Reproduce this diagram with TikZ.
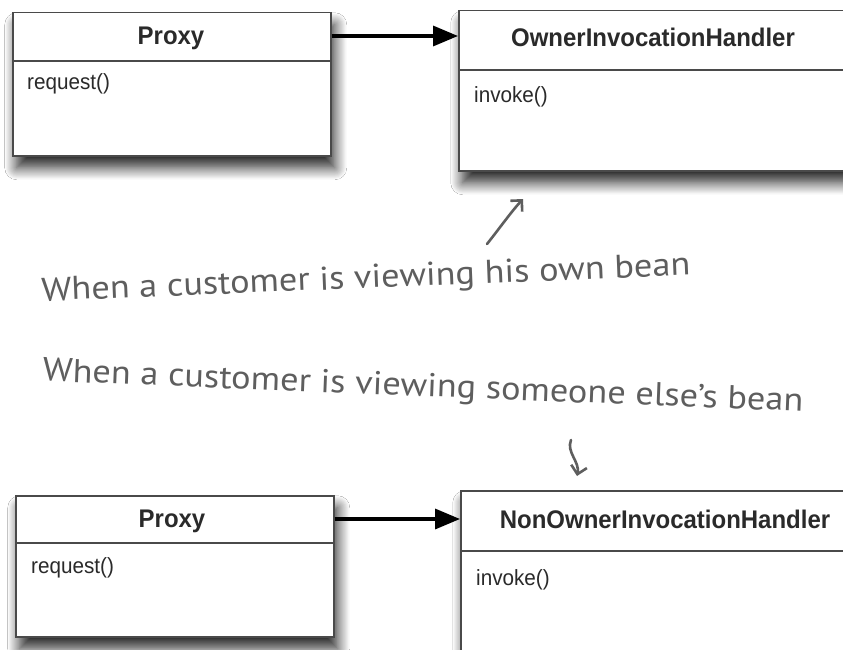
\documentclass[tikz,border=0pt]{standalone}
\usepackage{fontspec}
\setmainfont{Liberation Sans}
\newfontfamily\titlefont[FakeStretch=0.94]{Liberation Sans}
\newfontfamily\handfont[FakeStretch=1.1]{PT Sans}
\usetikzlibrary{arrows.meta,shadows.blur,calc}
\definecolor{boxline}{HTML}{4A4A4A}
\definecolor{handgray}{HTML}{5E5E5E}
\definecolor{txt}{HTML}{2A2A2A}
\tikzset{
  classbox/.style={draw=boxline, line width=1.5pt, fill=white, rectangle, inner sep=0pt, anchor=north west,
    blur shadow={shadow xshift=4pt, shadow yshift=-12pt, shadow blur radius=12pt, shadow blur steps=12, shadow opacity=85}},
  divider/.style={draw=boxline, line width=1.5pt},
  titletext/.style={font=\titlefont\fontsize{25.5}{28}\selectfont\bfseries, text=txt, inner sep=0pt},
  methodtext/.style={font=\titlefont\fontsize{22}{25}\selectfont, text=txt, inner sep=0pt, anchor=west},
  assoc/.style={line width=3.4pt, draw=black, -{Triangle[length=25pt,width=20pt]}},
  handtext/.style={font=\handfont\fontsize{33}{36}\selectfont, text=handgray, inner sep=0pt},
  handarrow/.style={draw=handgray, line width=2.6pt, line cap=round, line join=round, -{Straight Barb[length=8pt,width=16pt]}}
}
\begin{document}
\begin{tikzpicture}[x=1pt,y=-1pt]
\useasboundingbox (0,0) rectangle (843,650);
\fill[white] (0,0) rectangle (843,650);
\clip (0,0) rectangle (843,650);

% top row
\node[classbox, minimum width=318pt, minimum height=143pt] (proxyA) at (12,12) {};
\draw[divider] ($(proxyA.north west)+(0,49)$) -- ($(proxyA.north east)+(0,49)$);
\node[titletext] (proxyAtitle) at (171,38) {Proxy};
\node[methodtext] (proxyAreq) at (27,84) {request()};

\node[classbox, minimum width=420pt, minimum height=160pt] (owner) at (458,10) {};
\draw[divider] ($(owner.north west)+(0,60)$) -- ($(owner.north east)+(0,60)$);
\node[titletext] (ownertitle) at (653,37) {OwnerInvocationHandler};
\node[methodtext] (ownerinv) at (474,97) {invoke()};

\draw[assoc] (proxyA.east |- 0,36) -- (owner.west |- 0,36);

% notes
\node[handtext, rotate=2.3] (noteA) at (366,280) {When a customer is viewing his own bean};
\node[handtext, rotate=-2.3] (noteB) at (423,388) {When a customer is viewing someone else’s bean};

\coordinate (a1s) at (487,244);
\coordinate (a1e) at (523,199);
\draw[handarrow] (a1s) .. controls (499,229) and (511,212) .. (a1e);
\coordinate (a2s) at (571,440);
\coordinate (a2e) at (577,476);
\draw[handarrow] (a2s) .. controls (566,452) and (580,462) .. (a2e);

% bottom row
\node[classbox, minimum width=318pt, minimum height=141pt] (proxyB) at (15,495) {};
\draw[divider] ($(proxyB.north west)+(0,48)$) -- ($(proxyB.north east)+(0,48)$);
\node[titletext] (proxyBtitle) at (172,521) {Proxy};
\node[methodtext] (proxyBreq) at (31,568) {request()};

\node[classbox, minimum width=420pt, minimum height=220pt] (nonowner) at (460,490) {};
\draw[divider] ($(nonowner.north west)+(0,61)$) -- ($(nonowner.north east)+(0,61)$);
\node[titletext] (nonownertitle) at (665,519) {NonOwnerInvocationHandler};
\node[methodtext] (nonownerinv) at (476,580) {invoke()};

\draw[assoc] (proxyB.east |- 0,519) -- (nonowner.west |- 0,519);
\end{tikzpicture}
\end{document}
